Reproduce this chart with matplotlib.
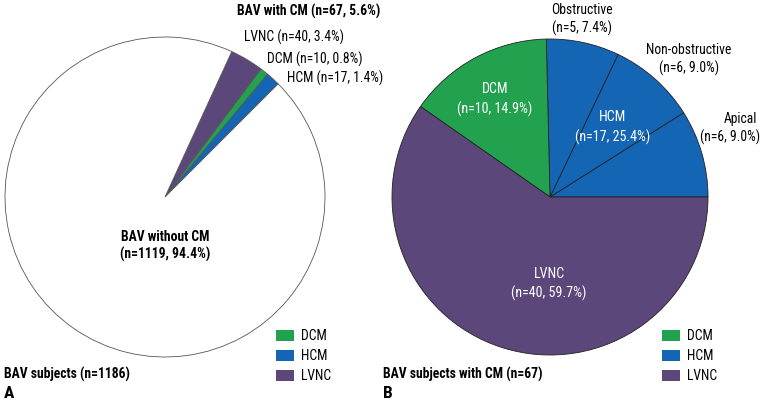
"""
BAV subjects: cardiomyopathy share (A) and CM subtypes (B)
"""

import matplotlib.pyplot as plt
from matplotlib.patches import Patch

plt.rcParams['font.family'] = ['Roboto Condensed', 'DejaVu Sans']

# DATA
a_labels = ['HCM', 'DCM', 'LVNC', 'BAV without CM']
a_counts = [17, 10, 40, 1119]

b_labels = ['Apical', 'Non-obstructive', 'Obstructive', 'DCM', 'LVNC']
b_counts = [6, 6, 5, 10, 40]

legend_labels = ['DCM', 'HCM', 'LVNC']

GREEN = '#22a24e'
BLUE = '#1565b5'
PURPLE = '#5b477a'

a_colors = [BLUE, GREEN, PURPLE, 'white']
b_colors = [BLUE, BLUE, BLUE, GREEN, PURPLE]

W, H = 763, 403
fig = plt.figure(figsize=(W / 100, H / 100), dpi=100)


def px(x, y):
    return x / W, 1 - y / H


def pie_axes(cx, cy, r):
    return fig.add_axes([(cx - r) / W, 1 - (cy + r) / H, 2 * r / W, 2 * r / H])


# PANEL A
axA = pie_axes(165, 197, 160)
axA.pie(a_counts, colors=a_colors, startangle=45, counterclock=True,
        wedgeprops=dict(edgecolor='#555555', linewidth=0.6))
axA.set_xlim(-1, 1)
axA.set_ylim(-1, 1)
axA.axis('off')

# PANEL B
axB = pie_axes(550, 197, 158)
axB.pie(b_counts, colors=b_colors, startangle=0, counterclock=True,
        wedgeprops=dict(edgecolor='#222222', linewidth=0.6))
axB.set_xlim(-1, 1)
axB.set_ylim(-1, 1)
axB.axis('off')

fs = 9.8

# annotations A
fig.text(*px(380, 11), 'BAV with CM (n=67, 5.6%)', ha='right', va='center',
         fontsize=fs, fontweight='bold')
fig.text(*px(244, 37), 'LVNC (n=40, 3.4%)', ha='left', va='center', fontsize=fs)
fig.text(*px(267, 59), 'DCM (n=10, 0.8%)', ha='left', va='center', fontsize=fs)
fig.text(*px(287, 78), 'HCM (n=17, 1.4%)', ha='left', va='center', fontsize=fs)
fig.text(*px(165, 237), 'BAV without CM', ha='center', va='center',
         fontsize=fs, fontweight='bold')
fig.text(*px(165, 254), '(n=1119, 94.4%)', ha='center', va='center',
         fontsize=fs, fontweight='bold')
fig.text(*px(4, 374), 'BAV subjects (n=1186)', ha='left', va='center',
         fontsize=fs, fontweight='bold')
fig.text(*px(4, 394), 'A', ha='left', va='center', fontsize=12.5, fontweight='bold')

# annotations B
fig.text(*px(582, 10), 'Obstructive', ha='center', va='center', fontsize=fs)
fig.text(*px(582, 28), '(n=5, 7.4%)', ha='center', va='center', fontsize=fs)
fig.text(*px(689, 50), 'Non-obstructive', ha='center', va='center', fontsize=fs)
fig.text(*px(689, 68), '(n=6, 9.0%)', ha='center', va='center', fontsize=fs)
fig.text(*px(740, 119), 'Apical', ha='center', va='center', fontsize=fs)
fig.text(*px(730, 137), '(n=6, 9.0%)', ha='center', va='center', fontsize=fs)
fig.text(*px(613, 117), 'HCM', ha='center', va='center', fontsize=fs + 0.3, color='white')
fig.text(*px(613, 137), '(n=17, 25.4%)', ha='center', va='center', fontsize=fs + 0.3, color='white')
fig.text(*px(495, 89), 'DCM', ha='center', va='center', fontsize=fs + 0.3, color='white')
fig.text(*px(495, 109), '(n=10, 14.9%)', ha='center', va='center', fontsize=fs + 0.3, color='white')
fig.text(*px(549, 274), 'LVNC', ha='center', va='center', fontsize=fs + 0.3, color='white')
fig.text(*px(549, 293), '(n=40, 59.7%)', ha='center', va='center', fontsize=fs + 0.3, color='white')
fig.text(*px(383, 374), 'BAV subjects with CM (n=67)', ha='left', va='center',
         fontsize=fs, fontweight='bold')
fig.text(*px(383, 394), 'B', ha='left', va='center', fontsize=12.5, fontweight='bold')

# legends
handles = [Patch(facecolor=c, edgecolor='none') for c in [GREEN, BLUE, PURPLE]]
for x0 in (276, 662):
    fig.legend(handles, legend_labels, loc='upper left', bbox_to_anchor=px(x0, 329),
               frameon=False, fontsize=fs, handlelength=1.3, handleheight=0.9,
               handletextpad=0.5, labelspacing=0.45, borderpad=0, borderaxespad=0)

fig.savefig('out.png', dpi=100)
